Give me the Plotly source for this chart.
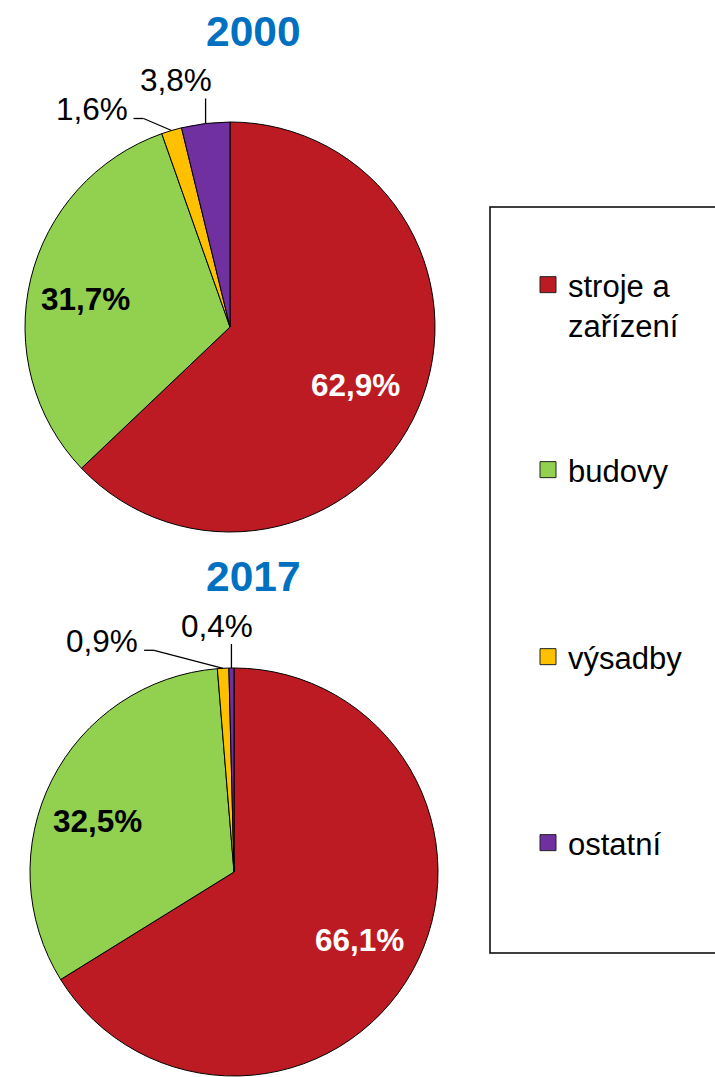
import math
import plotly.graph_objects as go

# ---------------- data ----------------
categories = ["stroje a zařízení", "budovy", "výsadby", "ostatní"]
legend_labels = ["stroje a<br>zařízení", "budovy", "výsadby", "ostatní"]
years = ["2000", "2017"]
values_2000 = [62.9, 31.7, 1.6, 3.8]
values_2017 = [66.1, 32.5, 0.9, 0.4]
label_text_2000 = ["62,9%", "31,7%", "1,6%", "3,8%"]
label_text_2017 = ["66,1%", "32,5%", "0,9%", "0,4%"]

# ---------------- style ----------------
W, H = 715, 1077
colors = ["#BC1B23", "#92D050", "#FFC000", "#7030A0"]
FONT = "Liberation Sans, Arial, sans-serif"
TITLE_BLUE = "#0070C0"
LABEL_SIZE = 31.5

# pie geometry (page pixels)
pies = [
    dict(year="2000", values=values_2000, texts=label_text_2000, cx=230, cy=327, r=205, title_y=31),
    dict(year="2017", values=values_2017, texts=label_text_2017, cx=234, cy=872, r=204, title_y=576),
]
title_x = 253
inside_frac = 0.69
inside_colors = ["white", "black", None, None]
inside_nudge = {
    ("2000", 0): (-4, 2), ("2000", 1): (-7, 5),
    ("2017", 0): (3, 0), ("2017", 1): (-11, 12),
}

# leader-line style for outside labels
outside_style = {
    ("2000", 2): dict(elbow=(-28, -12), tail=-10, txt=(-4, -10), xa="right"),
    ("2000", 3): dict(elbow=(0, -25), tail=0, txt=(8, 2), xa="right", ya="bottom"),
    ("2017", 2): dict(elbow=(-69, -18), tail=-10, txt=(-4, -9), xa="right"),
    ("2017", 3): dict(elbow=(0, -24), tail=0, txt=(24, 2), xa="right", ya="bottom"),
}


def px(x):
    return x / W


def py(y):
    return 1 - y / H


fig = go.Figure()
annotations = []
shapes = []

for p in pies:
    cx, cy, r = p["cx"], p["cy"], p["r"]
    fig.add_trace(go.Pie(
        labels=categories,
        values=p["values"],
        sort=False,
        direction="clockwise",
        rotation=0,
        marker=dict(colors=colors, line=dict(color="black", width=1)),
        textinfo="none",
        hoverinfo="label+percent",
        showlegend=False,
        domain=dict(x=[px(cx - r), px(cx + r)], y=[max(0, py(cy + r)), py(cy - r)]),
    ))
    annotations.append(dict(
        text="<b>%s</b>" % p["year"], x=px(title_x), y=py(p["title_y"]),
        xref="paper", yref="paper", showarrow=False,
        font=dict(family=FONT, size=42.5, color=TITLE_BLUE),
        xanchor="center", yanchor="middle",
    ))
    total = sum(p["values"])
    cum = 0.0
    for i, v in enumerate(p["values"]):
        mid = (cum + v / 2) / total * 2 * math.pi
        cum += v
        dx, dy = math.sin(mid), -math.cos(mid)
        if inside_colors[i] is not None:
            nx, ny = inside_nudge[(p["year"], i)]
            tx = cx + dx * r * inside_frac + nx
            ty = cy + dy * r * inside_frac + ny
            annotations.append(dict(
                text="<b>%s</b>" % p["texts"][i], x=px(tx), y=py(ty),
                xref="paper", yref="paper", showarrow=False,
                font=dict(family=FONT, size=LABEL_SIZE, color=inside_colors[i]),
                xanchor="center", yanchor="middle",
            ))
        else:
            st = outside_style[(p["year"], i)]
            ex, ey = cx + dx * r, cy + dy * r
            bx, by = ex + st["elbow"][0], ey + st["elbow"][1]
            tx2, ty2 = bx + st["tail"], by
            line = dict(color="black", width=1.3)
            shapes.append(dict(type="line", xref="paper", yref="paper",
                               x0=px(ex), y0=py(ey), x1=px(bx), y1=py(by), line=line))
            if st["tail"] != 0:
                shapes.append(dict(type="line", xref="paper", yref="paper",
                                   x0=px(bx), y0=py(by), x1=px(tx2), y1=py(ty2), line=line))
            annotations.append(dict(
                text=p["texts"][i], x=px(tx2 + st["txt"][0]), y=py(ty2 + st["txt"][1]),
                xref="paper", yref="paper", showarrow=False,
                font=dict(family=FONT, size=LABEL_SIZE, color="black"),
                xanchor=st["xa"], yanchor=st.get("ya", "middle"),
            ))

# legend frame
shapes.append(dict(type="rect", xref="paper", yref="paper",
                   x0=px(490), x1=px(W + 10), y0=py(953), y1=py(207),
                   line=dict(color="black", width=1.5), fillcolor="rgba(0,0,0,0)"))

# legend entries (one legend per entry so they can be spread like the original)
legend_ids = ["legend", "legend2", "legend3", "legend4"]
legend_y = [305, 470, 657, 843]
layout_legends = {}
for i, cat in enumerate(categories):
    fig.add_trace(go.Scatter(
        x=[None], y=[None], mode="markers", name=legend_labels[i],
        marker=dict(symbol="square", size=16, color=colors[i],
                    line=dict(color="#222222", width=1)),
        legend=legend_ids[i], showlegend=True, hoverinfo="skip",
    ))
    layout_legends[legend_ids[i]] = dict(
        x=px(528), y=py(legend_y[i]), xanchor="left", yanchor="middle",
        font=dict(family=FONT, size=31, color="black"),
        bgcolor="rgba(0,0,0,0)", borderwidth=0, valign="top",
        itemclick=False, itemdoubleclick=False,
    )

fig.update_layout(
    width=W, height=H,
    margin=dict(l=0, r=0, t=0, b=0),
    paper_bgcolor="white", plot_bgcolor="white",
    xaxis=dict(visible=False), yaxis=dict(visible=False),
    annotations=annotations, shapes=shapes,
    **layout_legends,
)

fig.write_html(
    "out.html",
    config={"displayModeBar": False},
    post_script="document.body.style.margin='0';document.body.style.overflow='hidden';",
)
